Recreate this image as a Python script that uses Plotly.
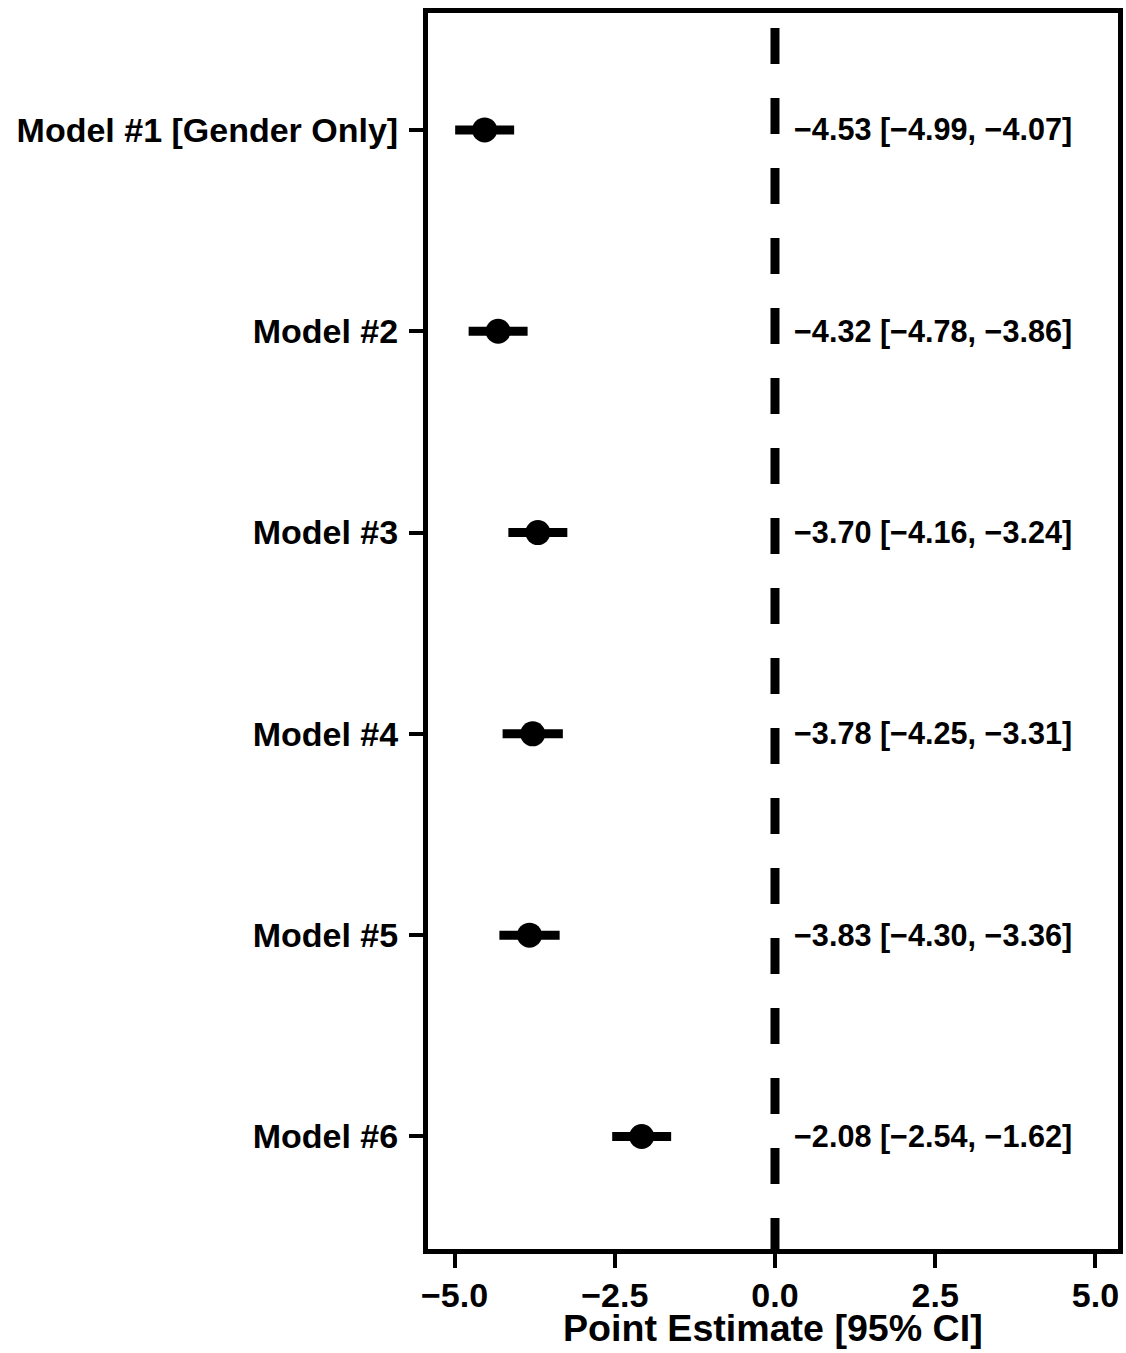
import plotly.graph_objects as go

# Model estimates with 95% confidence intervals
models = ["Model #1 [Gender Only]", "Model #2", "Model #3", "Model #4", "Model #5", "Model #6"]
estimates = [-4.53, -4.32, -3.70, -3.78, -3.83, -2.08]
ci_low = [-4.99, -4.78, -4.16, -4.25, -4.30, -2.54]
ci_high = [-4.07, -3.86, -3.24, -3.31, -3.36, -1.62]
x_ticks = [-5.0, -2.5, 0.0, 2.5, 5.0]
x_title = "Point Estimate [95% CI]"

FONT = "Liberation Sans"
ypos = list(range(len(models)))


def fmt(v, digits=2):
    return f"{v:.{digits}f}".replace("-", "\u2212")


fig = go.Figure()

fig.add_trace(go.Scatter(
    x=estimates,
    y=ypos,
    mode="markers",
    marker=dict(color="black", size=25),
    error_x=dict(
        type="data",
        symmetric=False,
        array=[h - e for h, e in zip(ci_high, estimates)],
        arrayminus=[e - l for e, l in zip(estimates, ci_low)],
        color="black",
        thickness=9,
        width=0,
    ),
    showlegend=False,
    hoverinfo="skip",
))

# reference line at zero
fig.add_shape(
    type="line", xref="x", yref="paper",
    x0=0, x1=0, y0=0.9879, y1=0,
    line=dict(color="black", width=9, dash="36px,34px"),
    layer="above",
)

# estimate labels to the right of the zero line
for i, (e, l, h) in enumerate(zip(estimates, ci_low, ci_high)):
    fig.add_annotation(
        x=0.27, y=i, xref="x", yref="y",
        text=f"{fmt(e)} [{fmt(l)}, {fmt(h)}]",
        showarrow=False, xanchor="left", yanchor="middle",
        font=dict(family=FONT, size=30.6, color="black", weight="bold"),
    )

# x-axis title
fig.add_annotation(
    x=0.5, y=0, xref="paper", yref="paper",
    text=x_title, showarrow=False, xanchor="center", yanchor="top",
    yshift=-57, borderpad=0,
    font=dict(family=FONT, size=37.6, color="black", weight="bold"),
)

fig.update_layout(
    width=1126,
    height=1353,
    margin=dict(l=427.5, r=3, t=13, b=103.5, pad=0),
    plot_bgcolor="white",
    paper_bgcolor="white",
    font=dict(family=FONT, color="black", weight="bold"),
)

fig.update_xaxes(
    range=[-5.414, 5.352],
    tickvals=x_ticks,
    ticktext=[fmt(v, 1) for v in x_ticks],
    ticks="outside", ticklen=14, tickwidth=4, tickcolor="black",
    ticklabelstandoff=-2,
    tickfont=dict(family=FONT, size=34, color="black", weight="bold"),
    showline=True, linewidth=5, linecolor="black", mirror=True,
    showgrid=False, zeroline=False,
)

fig.update_yaxes(
    range=[5.559, -0.581],
    tickvals=ypos,
    ticktext=models,
    ticks="outside", ticklen=14, tickwidth=4, tickcolor="black",
    ticklabelstandoff=4,
    tickfont=dict(family=FONT, size=34, color="black", weight="bold"),
    showline=True, linewidth=5, linecolor="black", mirror=True,
    showgrid=False, zeroline=False,
)

fig.write_html("out.html")
